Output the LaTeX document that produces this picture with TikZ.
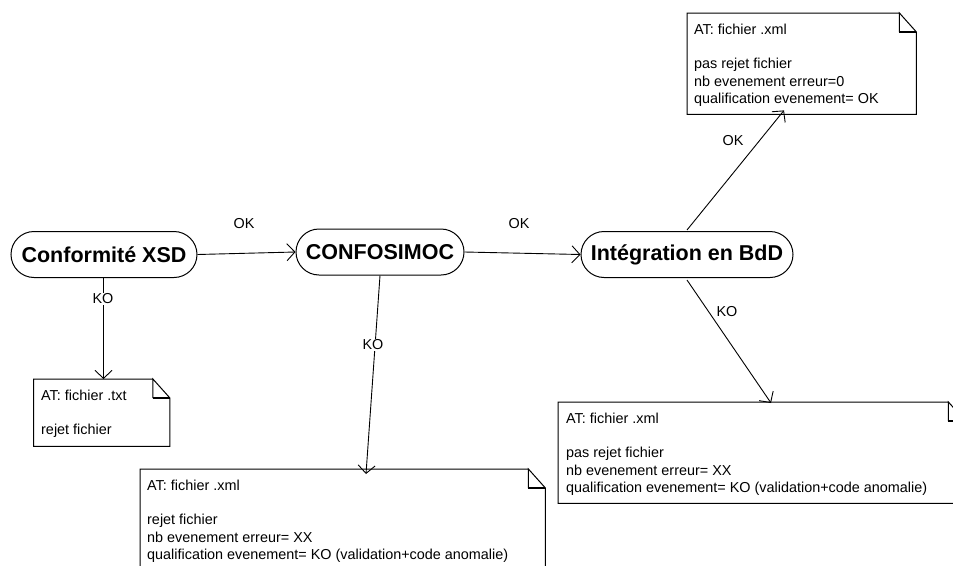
\documentclass[tikz,border=0pt]{standalone}
\usepackage{fontspec}
\setmainfont{Liberation Sans}
\usetikzlibrary{arrows.meta,calc}
\tikzset{
  x=1pt,y=-1pt,
  stadium/.style={draw=black,line width=1pt,rounded corners=23pt,inner sep=0pt,font=\fontsize{21.5}{25}\selectfont\bfseries},
  notebox/.style={inner sep=0pt,anchor=north west},
  notetext/.style={inner sep=0pt,anchor=north west,align=left,text depth=0pt,font=\fontsize{14.4}{17.3}\selectfont},
  lbl/.style={inner sep=1pt,font=\fontsize{14.4}{16}\selectfont},
  lblw/.style={lbl,fill=white},
  link/.style={draw=black,line width=0.9pt,-{Straight Barb[length=8pt,width=17pt,line width=0.9pt]}},
  noteline/.style={draw=black,line width=1pt,line join=miter},
  foldline/.style={draw=black,line width=1.4pt}
}
\newcommand{\notedraw}[1]{%
  \draw[noteline] ($(#1.north east)+(-17,0)$) -- (#1.north west) -- (#1.south west) -- (#1.south east) -- ($(#1.north east)+(0,19)$) -- ($(#1.north east)+(-17,0)$) -- ($(#1.north east)+(-17,19)$);
  \draw[foldline] ($(#1.north east)+(-17,19)$) -- ($(#1.north east)+(0,19)$);
}
\begin{document}
\begin{tikzpicture}
\useasboundingbox (0,0) rectangle (953,565);
\clip (0,0) rectangle (953,565);
\fill[white] (0,0) rectangle (953,565);

% process nodes
\node[stadium,minimum width=186pt,minimum height=46pt] (xsd) at (104,254.5) {Conformité XSD};
\node[stadium,minimum width=168pt,minimum height=46pt] (conf) at (380,252) {CONFOSIMOC};
\node[stadium,minimum width=212pt,minimum height=46pt] (integ) at (687,254.5) {Intégration en BdD};

% note boxes
\node[notebox,minimum width=136pt,minimum height=67pt] (n1) at (33.5,379) {};
\node[notebox,minimum width=405pt,minimum height=120pt] (n2) at (140,469) {};
\node[notebox,minimum width=407pt,minimum height=101pt] (n3) at (558,402) {};
\node[notebox,minimum width=229pt,minimum height=101pt] (n4) at (687,13) {};
\notedraw{n1}\notedraw{n2}\notedraw{n3}\notedraw{n4}

% note texts
\node[notetext] (t1) at (41,389.5) {AT: fichier .txt\\[17.3pt]rejet fichier};
\node[notetext] (t2) at (147,479.5) {AT: fichier .xml\\[17.3pt]rejet fichier\\nb evenement erreur= XX\\qualification evenement= KO (validation+code anomalie)};
\node[notetext] (t3) at (566,412.5) {AT: fichier .xml\\[17.3pt]pas rejet fichier\\nb evenement erreur= XX\\qualification evenement= KO (validation+code anomalie)};
\node[notetext] (t4) at (694,23.5) {AT: fichier .xml\\[17.3pt]pas rejet fichier\\nb evenement erreur=0\\qualification evenement= OK};

% connector end points on the nodes
\coordinate (a1) at ($(n1.north west)+(70,0)$);
\coordinate (a2) at ($(n2.north west)+(226,5)$);
\coordinate (a3) at ($(n3.north west)+(213,1)$);
\coordinate (a4) at ($(n4.south west)+(97,-4)$);
\coordinate (s1) at ($(xsd.south)+(-0.5,0)$);
\coordinate (s3) at ($(integ.south)+(0,2)$);
\coordinate (s4) at ($(integ.north)+(0,-1)$);

% connectors
\draw[link] (xsd.east) -- (conf.west);
\draw[link] (conf.east) -- (integ.west);
\draw[link] (s1) -- (a1);
\draw[link] (conf.south) -- (a2);
\draw[link] (s3) -- (a3);
\draw[link] (s4) -- (a4);

% labels
\node[lbl] (okA) at (244,224) {OK};
\node[lbl] (okB) at (519,224) {OK};
\node[lbl] (okC) at (733,141) {OK};
\node[lblw] (koA) at (103,299) {KO};
\node[lblw] (koB) at (373,345) {KO};
\node[lbl] (koC) at (727,312) {KO};
\end{tikzpicture}
\end{document}
